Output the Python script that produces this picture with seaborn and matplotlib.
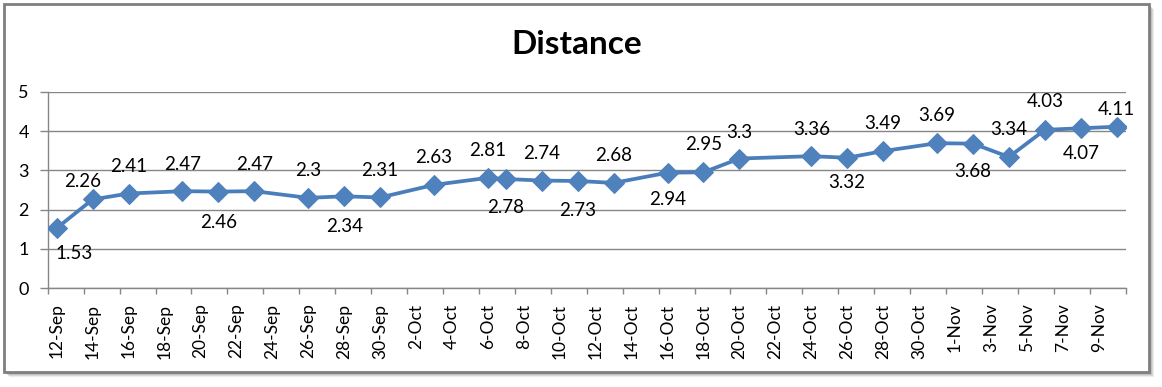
import matplotlib
matplotlib.use("Agg")
import matplotlib.pyplot as plt
import matplotlib.dates as mdates
from matplotlib.patches import Rectangle
from matplotlib.ticker import FixedLocator, NullFormatter
import seaborn as sns
import pandas as pd
import numpy as np

# ---- data ----
dates = ["2013-09-12", "2013-09-14", "2013-09-16", "2013-09-19", "2013-09-21",
         "2013-09-23", "2013-09-26", "2013-09-28", "2013-09-30", "2013-10-03",
         "2013-10-06", "2013-10-07", "2013-10-09", "2013-10-11", "2013-10-13",
         "2013-10-16", "2013-10-18", "2013-10-20", "2013-10-24", "2013-10-26",
         "2013-10-28", "2013-10-31", "2013-11-02", "2013-11-04", "2013-11-06",
         "2013-11-08", "2013-11-10"]
distance = [1.53, 2.26, 2.41, 2.47, 2.46, 2.47, 2.3, 2.34, 2.31, 2.63,
            2.81, 2.78, 2.74, 2.73, 2.68, 2.94, 2.95, 3.3, 3.36, 3.32,
            3.49, 3.69, 3.68, 3.34, 4.03, 4.07, 4.11]
value_labels = ["1.53", "2.26", "2.41", "2.47", "2.46", "2.47", "2.3", "2.34", "2.31", "2.63",
                "2.81", "2.78", "2.74", "2.73", "2.68", "2.94", "2.95", "3.3", "3.36", "3.32",
                "3.49", "3.69", "3.68", "3.34", "4.03", "4.07", "4.11"]
tick_labels = ["12-Sep", "14-Sep", "16-Sep", "18-Sep", "20-Sep", "22-Sep", "24-Sep",
               "26-Sep", "28-Sep", "30-Sep", "2-Oct", "4-Oct", "6-Oct", "8-Oct",
               "10-Oct", "12-Oct", "14-Oct", "16-Oct", "18-Oct", "20-Oct", "22-Oct",
               "24-Oct", "26-Oct", "28-Oct", "30-Oct", "1-Nov", "3-Nov", "5-Nov",
               "7-Nov", "9-Nov"]
y_ticks = [0, 1, 2, 3, 4, 5]

# label placement (pixels): horizontal and vertical offsets of each value label
label_dx = [17, -10] + [0] * 25
label_dy = [-25, 18, 27, 27, -31, 27, 27, -30, 27, 27,
            27, -29, 27, -30, 27, -27, 28, 26, 27, -25,
            28, 28, -28, 27, 28, -25, 17]

df = pd.DataFrame({"date": pd.to_datetime(dates), "Distance": distance})

W, H, DPI = 1162, 387, 100
sns.set_theme(style="white")
plt.rcParams["font.family"] = ["Lato", "DejaVu Sans"]

fig = plt.figure(figsize=(W / DPI, H / DPI), dpi=DPI)
fig.patch.set_facecolor("white")

def fx(px):
    return px / W

def fy(py):
    return 1 - py / H

# frame with shadow
for i, a in enumerate([0.10, 0.13, 0.16, 0.20, 0.25]):
    off = 5 - i
    fig.add_artist(Rectangle((fx(4 + off), fy(372 + off)), fx(1145), 368 / H,
                             transform=fig.transFigure, facecolor=(0.3, 0.3, 0.3, a),
                             edgecolor="none", zorder=-3))
fig.add_artist(Rectangle((fx(4), fy(372)), fx(1145), 368 / H,
                         transform=fig.transFigure, facecolor="white",
                         edgecolor="#7f7f7f", linewidth=2, zorder=-2))

ax = fig.add_axes([fx(47.7), fy(288.3), fx(1125.7 - 47.7), (288.3 - 91.7) / H])
ax.set_facecolor("none")

blue = "#4A7EBB"
sns.lineplot(data=df, x="date", y="Distance", ax=ax, color=blue, linewidth=2.7,
             marker="D", markersize=10, markerfacecolor="#4F81BD",
             markeredgecolor="#4F81BD", zorder=3)

start = pd.Timestamp(dates[0])
tick_dates = pd.date_range(start, periods=len(tick_labels), freq="2D")
ax.set_xlim(mdates.date2num(start - pd.Timedelta(hours=12)),
            mdates.date2num(tick_dates[-1] + pd.Timedelta(hours=36)))
ax.set_ylim(0, 5)

ax.set_xticks(mdates.date2num(tick_dates))
ax.set_xticklabels(tick_labels, rotation=90, fontsize=12.5, color="black")
bounds = mdates.date2num(pd.date_range(start - pd.Timedelta(hours=12),
                                       periods=len(tick_labels) + 1, freq="2D"))
ax.xaxis.set_minor_locator(FixedLocator(bounds))
ax.xaxis.set_minor_formatter(NullFormatter())
ax.tick_params(axis="x", which="major", length=0, pad=11)
ax.tick_params(axis="x", which="minor", length=4.5, width=1, color="#868686",
               direction="out", bottom=True)

ax.set_yticks(y_ticks)
ax.set_yticklabels([str(t) for t in y_ticks], fontsize=13, color="black")
ax.tick_params(axis="y", length=5.5, width=1, color="#868686", pad=8, left=True)

ax.grid(axis="y", color="#868686", linewidth=1)
ax.set_axisbelow(True)
for s in ["top", "right"]:
    ax.spines[s].set_visible(False)
for s in ["left", "bottom"]:
    ax.spines[s].set_color("#868686")
    ax.spines[s].set_linewidth(1)
ax.set_xlabel("")
ax.set_ylabel("")

for d, v, lab, dx, dy in zip(df["date"], distance, value_labels, label_dx, label_dy):
    ax.annotate(lab, (mdates.date2num(d), v), xytext=(dx * 72 / DPI, dy * 72 / DPI),
                textcoords="offset points", ha="center", va="center",
                fontsize=13.5, color="black", zorder=4)

fig.text(fx(577), fy(44), "Distance", ha="center", va="center",
         fontsize=24, fontweight="bold", color="black")

fig.savefig("out.png", dpi=DPI)
